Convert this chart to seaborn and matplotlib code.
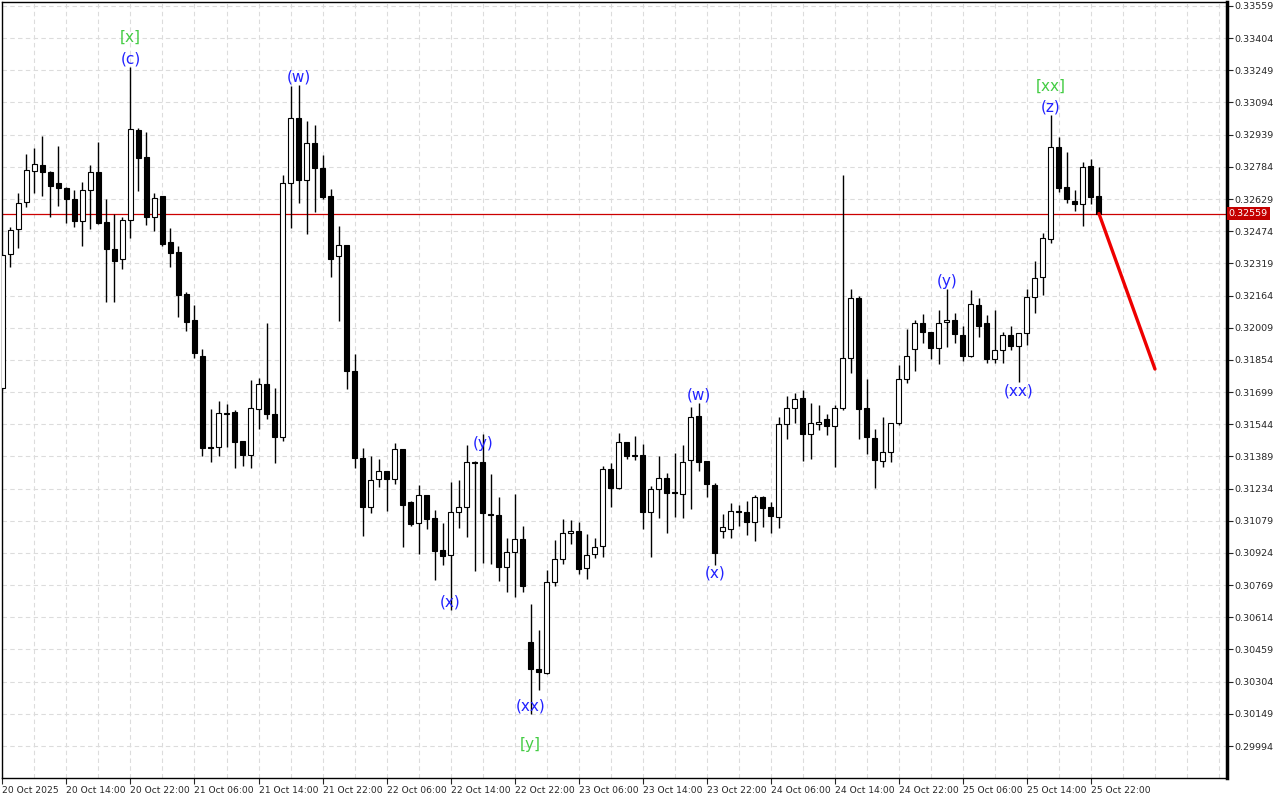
import matplotlib
matplotlib.use("Agg")
import matplotlib.pyplot as plt
import matplotlib.transforms as mtransforms
import numpy as np
import pandas as pd
import seaborn as sns

# H1 candles, 20 Oct 06:00 .. 25 Oct 23:00
opens = [0.31719, 0.32364, 0.32485, 0.32615, 0.32764, 0.32793, 0.32759, 0.32706, 0.32682, 0.32629,
         0.32523, 0.32673, 0.32759, 0.32518, 0.32388, 0.32340, 0.32528, 0.32962, 0.32832, 0.32543,
         0.32644, 0.32422, 0.32374, 0.32172, 0.32046, 0.31873, 0.31434, 0.31434, 0.31598, 0.31603,
         0.31463, 0.31396, 0.31617, 0.31738, 0.31593, 0.31483, 0.32706, 0.33020, 0.32721, 0.32899,
         0.32779, 0.32644, 0.32355, 0.32408, 0.31800, 0.31381, 0.31145, 0.31280, 0.31319, 0.31280,
         0.31425, 0.31169, 0.31068, 0.31203, 0.31092, 0.30938, 0.30914, 0.31121, 0.31145, 0.31362,
         0.31362, 0.31112, 0.31107, 0.30856, 0.30929, 0.30991, 0.30495, 0.30365, 0.30345, 0.30784,
         0.30895, 0.31020, 0.31030, 0.30851, 0.30919, 0.30957, 0.31328, 0.31237, 0.31459, 0.31396,
         0.31396, 0.31121, 0.31232, 0.31285, 0.31218, 0.31208, 0.31372, 0.31584, 0.31367, 0.31251,
         0.31030, 0.31039, 0.31126, 0.31121, 0.31073, 0.31194, 0.31145, 0.31097, 0.31545, 0.31622,
         0.31670, 0.31497, 0.31545, 0.31569, 0.31535, 0.31622, 0.31863, 0.32152, 0.31622, 0.31478,
         0.31367, 0.31410, 0.31550, 0.31762, 0.31907, 0.32032, 0.31989, 0.31911, 0.32037, 0.32046,
         0.31974, 0.31873, 0.32119, 0.32032, 0.31858, 0.31902, 0.31974, 0.31921, 0.31984, 0.32157,
         0.32253, 0.32437, 0.32880, 0.32687, 0.32620, 0.32605, 0.32788, 0.32644]
highs = [0.32364, 0.32494, 0.32658, 0.32846, 0.32875, 0.32933, 0.32764, 0.32885, 0.32687, 0.32673,
         0.32711, 0.32793, 0.32904, 0.32629, 0.32557, 0.32543, 0.33265, 0.32971, 0.32952, 0.32658,
         0.32644, 0.32490, 0.32403, 0.32181, 0.32119, 0.31907, 0.31617, 0.31656, 0.31642, 0.31613,
         0.31463, 0.31757, 0.31767, 0.32032, 0.31719, 0.32745, 0.33174, 0.33179, 0.33005, 0.32986,
         0.32841, 0.32677, 0.32499, 0.32408, 0.31882, 0.31430, 0.31391, 0.31377, 0.31319, 0.31454,
         0.31425, 0.31174, 0.31251, 0.31203, 0.31131, 0.31068, 0.31266, 0.31275, 0.31444, 0.31367,
         0.31497, 0.31304, 0.31194, 0.30996, 0.31208, 0.31054, 0.30678, 0.30553, 0.30842, 0.30986,
         0.31087, 0.31083, 0.31073, 0.31015, 0.30996, 0.31343, 0.31357, 0.31502, 0.31459, 0.31487,
         0.31449, 0.31247, 0.31391, 0.31309, 0.31405, 0.31444, 0.31627, 0.31646, 0.31367, 0.31261,
         0.31112, 0.31165, 0.31155, 0.31174, 0.31203, 0.31198, 0.31169, 0.31579, 0.31680, 0.31695,
         0.31709, 0.31646, 0.31637, 0.31593, 0.31637, 0.32745, 0.32196, 0.32162, 0.31762, 0.31521,
         0.31579, 0.31550, 0.31829, 0.32003, 0.32046, 0.32075, 0.31989, 0.32094, 0.32196, 0.32080,
         0.32017, 0.32191, 0.32152, 0.32070, 0.32094, 0.31989, 0.32017, 0.31984, 0.32196, 0.32331,
         0.32465, 0.33034, 0.32928, 0.32856, 0.32673, 0.32808, 0.32822, 0.32783]
lows = [0.31709, 0.32302, 0.32393, 0.32591, 0.32658, 0.32644, 0.32543, 0.32596, 0.32514, 0.32494,
        0.32403, 0.32485, 0.32509, 0.32133, 0.32133, 0.32292, 0.32441, 0.32668, 0.32504, 0.32475,
        0.32403, 0.32302, 0.32061, 0.31993, 0.31863, 0.31391, 0.31362, 0.31391, 0.31434, 0.31333,
        0.31343, 0.31333, 0.31521, 0.31569, 0.31357, 0.31463, 0.32490, 0.32610, 0.32461, 0.32567,
        0.32629, 0.32253, 0.32041, 0.31714, 0.31333, 0.31006, 0.31116, 0.31242, 0.31126, 0.31256,
        0.30953, 0.31054, 0.30919, 0.31039, 0.30794, 0.30866, 0.30649, 0.31044, 0.31001, 0.30837,
        0.30875, 0.30871, 0.30789, 0.30736, 0.30712, 0.30736, 0.30148, 0.30264, 0.30341, 0.30765,
        0.30871, 0.30967, 0.30822, 0.30798, 0.30900, 0.30904, 0.31145, 0.31232, 0.31377, 0.31372,
        0.31039, 0.30904, 0.31092, 0.31020, 0.31097, 0.31092, 0.31136, 0.31319, 0.31194, 0.30866,
        0.30996, 0.30996, 0.31054, 0.31010, 0.30982, 0.31049, 0.31020, 0.31044, 0.31473, 0.31550,
        0.31367, 0.31377, 0.31516, 0.31492, 0.31338, 0.31613, 0.31791, 0.31473, 0.31401, 0.31237,
        0.31338, 0.31362, 0.31540, 0.31743, 0.31800, 0.31935, 0.31858, 0.31834, 0.31916, 0.31935,
        0.31849, 0.31868, 0.31964, 0.31839, 0.31839, 0.31839, 0.31902, 0.31748, 0.31926, 0.32080,
        0.32167, 0.32417, 0.32663, 0.32610, 0.32571, 0.32499, 0.32605, 0.32559]
closes = [0.32359, 0.32480, 0.32610, 0.32769, 0.32798, 0.32759, 0.32692, 0.32682, 0.32629, 0.32523,
          0.32673, 0.32759, 0.32514, 0.32388, 0.32331, 0.32528, 0.32966, 0.32827, 0.32543, 0.32634,
          0.32412, 0.32369, 0.32167, 0.32037, 0.31887, 0.31430, 0.31430, 0.31598, 0.31593, 0.31459,
          0.31396, 0.31622, 0.31738, 0.31593, 0.31483, 0.32706, 0.33020, 0.32721, 0.32899, 0.32779,
          0.32639, 0.32340, 0.32408, 0.31800, 0.31381, 0.31145, 0.31275, 0.31319, 0.31280, 0.31425,
          0.31155, 0.31063, 0.31203, 0.31087, 0.30933, 0.30909, 0.31121, 0.31145, 0.31362, 0.31357,
          0.31116, 0.31107, 0.30856, 0.30929, 0.30991, 0.30765, 0.30365, 0.30350, 0.30784, 0.30895,
          0.31020, 0.31030, 0.30847, 0.30914, 0.30953, 0.31328, 0.31237, 0.31459, 0.31391, 0.31391,
          0.31121, 0.31232, 0.31285, 0.31213, 0.31213, 0.31362, 0.31579, 0.31362, 0.31256, 0.30924,
          0.31049, 0.31126, 0.31121, 0.31073, 0.31194, 0.31141, 0.31102, 0.31545, 0.31622, 0.31666,
          0.31497, 0.31550, 0.31555, 0.31535, 0.31622, 0.31863, 0.32152, 0.31617, 0.31483, 0.31372,
          0.31410, 0.31550, 0.31762, 0.31873, 0.32032, 0.31989, 0.31911, 0.32032, 0.32046, 0.31979,
          0.31873, 0.32123, 0.32017, 0.31858, 0.31902, 0.31974, 0.31921, 0.31984, 0.32157, 0.32249,
          0.32441, 0.32880, 0.32682, 0.32629, 0.32605, 0.32783, 0.32639, 0.32559]

time_labels = ["20 Oct 2025", "20 Oct 14:00", "20 Oct 22:00", "21 Oct 06:00", "21 Oct 14:00",
               "21 Oct 22:00", "22 Oct 06:00", "22 Oct 14:00", "22 Oct 22:00", "23 Oct 06:00",
               "23 Oct 14:00", "23 Oct 22:00", "24 Oct 06:00", "24 Oct 14:00", "24 Oct 22:00",
               "25 Oct 06:00", "25 Oct 14:00", "25 Oct 22:00"]
price_ticks = [0.29994, 0.30149, 0.30304, 0.30459, 0.30614, 0.30769, 0.30924, 0.31079,
               0.31234, 0.31389, 0.31544, 0.31699, 0.31854, 0.32009, 0.32164, 0.32319,
               0.32474, 0.32629, 0.32784, 0.32939, 0.33094, 0.33249, 0.33404, 0.33559]
last_price = 0.32559

# wave labels: text, candle index, price, colour group
wave_text = ["[x]", "(c)", "(w)", "(x)", "(y)", "(xx)", "[y]", "(w)", "(x)", "(y)", "(xx)", "[xx]", "(z)"]
wave_bar = [16, 16, 37, 56, 60, 66, 66, 87, 89, 118, 127, 131, 131]
wave_price = [0.33410, 0.33304, 0.33217, 0.30688, 0.31449, 0.30187, 0.29999,
              0.31685, 0.30827, 0.32234, 0.31704, 0.33174, 0.33073]
wave_green = [True, False, False, False, False, False, True, False, False, False, False, True, False]

# forecast arrow
forecast_bar = [137, 144]
forecast_price = [0.32559, 0.31810]

df = pd.DataFrame({"open": opens, "high": highs, "low": lows, "close": closes})
df["idx"] = np.arange(len(df))
df["up"] = df["close"] >= df["open"]

sns.set_style("white")
plt.rcParams["font.family"] = ["DejaVu Sans"]

fig = plt.figure(figsize=(12.8, 8), dpi=100)
ax = fig.add_axes([2 / 1280, 22 / 800, 1225 / 1280, 776 / 800])

# grid
ax.set_xticks(np.arange(0, 153, 4), minor=True)
ax.grid(True, which="both", axis="x", color="#dcdcdc", ls=(0, (4, 3)), lw=0.8)
ax.grid(True, which="major", axis="y", color="#dcdcdc", ls=(0, (4, 3)), lw=0.8)
ax.set_axisbelow(True)

# wicks and bodies
ax.vlines(df["idx"], df["low"], df["high"], color="black", lw=1.0, zorder=2)
body = (df["close"] - df["open"]).where(lambda s: s.abs() > 1e-6, 1.2e-5)
ax.bar(df["idx"], body, bottom=df["open"], width=0.62,
       color=np.where(df["up"], "white", "black"), edgecolor="black", lw=0.8, zorder=3)

# current price line
ax.axhline(last_price, color="#cc0000", lw=0.9, zorder=1)

# forecast
sns.lineplot(x=forecast_bar, y=forecast_price, ax=ax, color="#ee0000", lw=2.4, zorder=4)

for t, b, p, g in zip(wave_text, wave_bar, wave_price, wave_green):
    ax.text(b, p, t, ha="center", va="center", fontsize=11,
            color="#44cc44" if g else "#2222ff", zorder=5)

ax.set_xlim(-0.05, 153)
ax.set_ylim(0.29840, 0.33578)

ax.set_xticks(np.arange(0, 137, 8))
ax.set_xticklabels(time_labels, fontsize=6.6)
for lbl in ax.get_xticklabels():
    lbl.set_horizontalalignment("left")
ax.yaxis.tick_right()
ax.set_yticks(price_ticks)
ax.set_yticklabels([f"{v:.5f}" for v in price_ticks], fontsize=6.8)
ax.tick_params(axis="x", which="major", length=4, width=0.8, pad=2, direction="out", bottom=True)
ax.tick_params(axis="x", which="minor", length=0)
ax.tick_params(axis="y", length=4, width=0.8, pad=1, direction="out", right=True)

for s in ["left", "top", "bottom"]:
    ax.spines[s].set_color("black")
    ax.spines[s].set_linewidth(1.0)
ax.spines["right"].set_linewidth(2.5)
ax.spines["right"].set_color("black")

trans = mtransforms.blended_transform_factory(ax.transAxes, ax.transData)
ax.text(1.0015, last_price, f"{last_price:.5f}", transform=trans, fontsize=6.8,
        color="white", ha="left", va="center", zorder=6,
        bbox=dict(facecolor="#c40000", edgecolor="none", pad=1.6))

ax.set_xlabel("")
ax.set_ylabel("")
fig.savefig("out.png", dpi=100)
